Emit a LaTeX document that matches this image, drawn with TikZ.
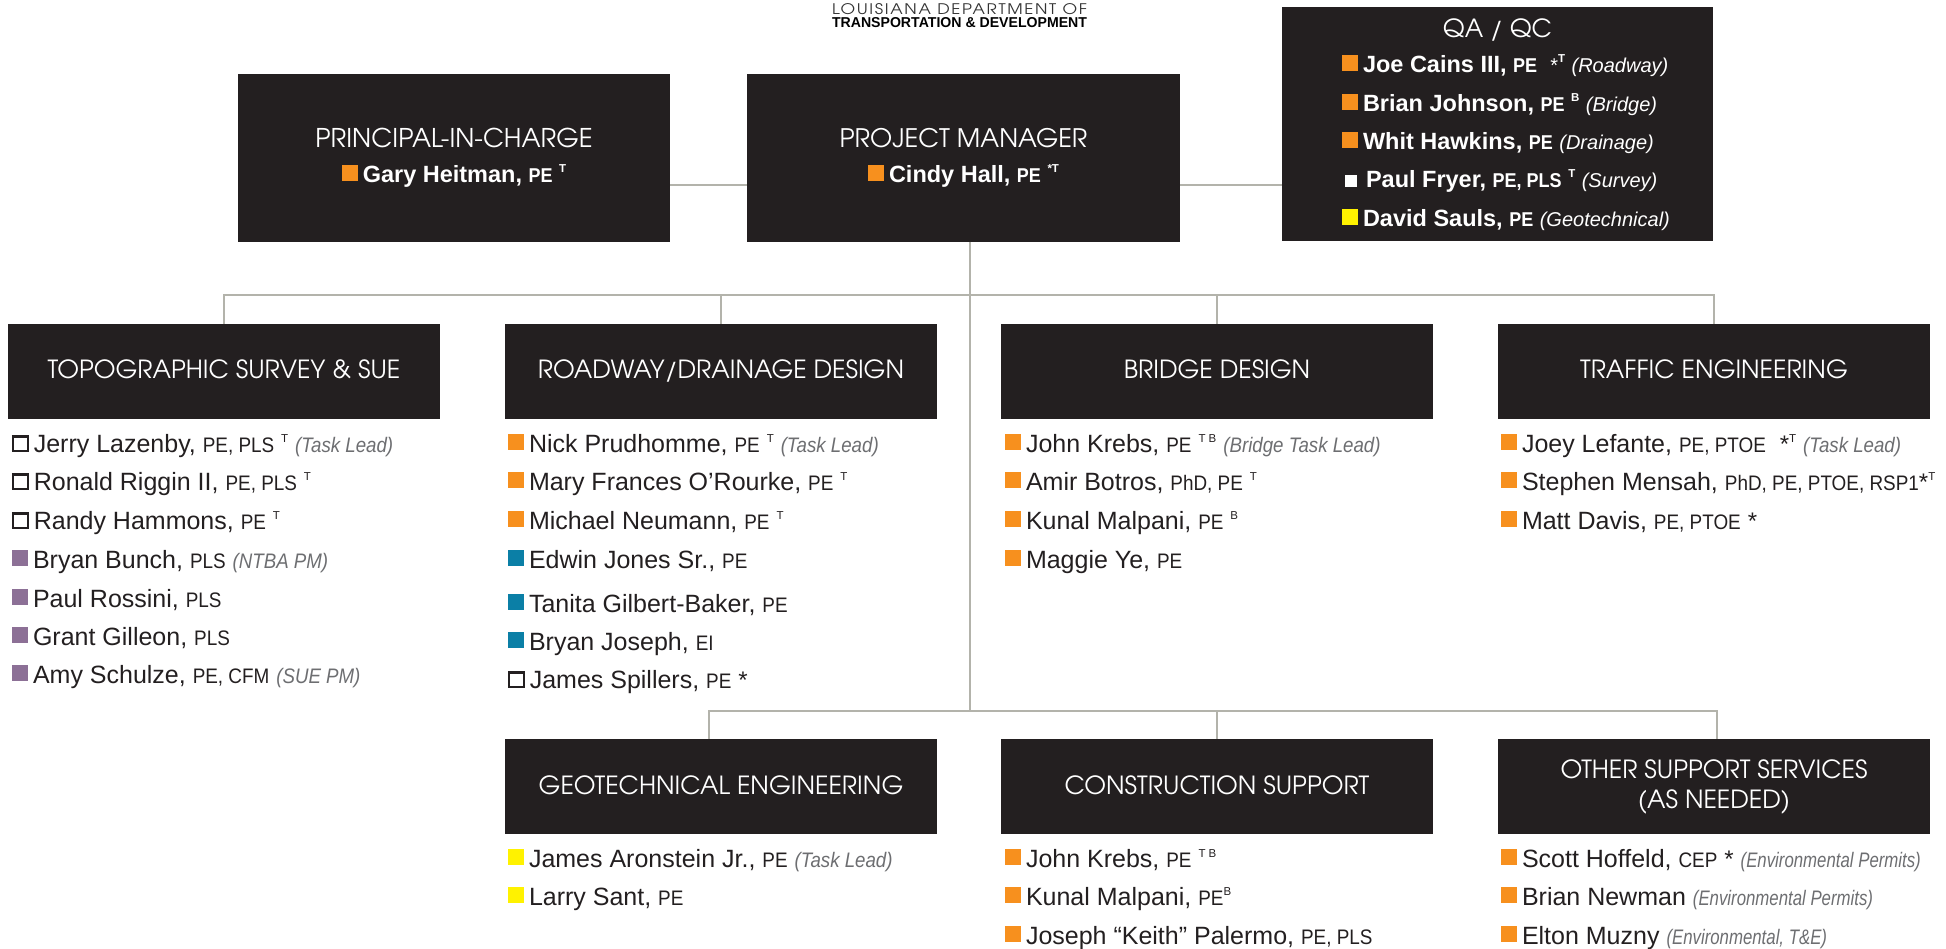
\documentclass[tikz,border=0pt]{standalone}
\usepackage{fontspec}
\usepackage{graphicx}
\setmainfont{Liberation Sans}
\newfontfamily\advf{TeX Gyre Adventor}
\newfontfamily\advL{TeX Gyre Adventor}[LetterSpace=10]
\newfontfamily\crf{Liberation Sans}[FakeStretch=0.9]
\newfontfamily\nfA{Liberation Sans}[FakeStretch=0.89]
\newfontfamily\nfB{Liberation Sans}[FakeStretch=0.8]
\definecolor{boxc}{HTML}{231F20}
\definecolor{txtc}{HTML}{231F20}
\definecolor{notec}{HTML}{6D6E71}
\definecolor{orng}{HTML}{F7901E}
\definecolor{purp}{HTML}{8C7096}
\definecolor{teal}{HTML}{0B7FA6}
\definecolor{yell}{HTML}{FFF200}
\definecolor{linec}{HTML}{B3B3AB}
\newcommand\hdrf{\advf\fontsize{25}{30}\selectfont}
\newcommand\sqf[1]{\textcolor{#1}{\rule[2pt]{16pt}{16pt}}\hspace{5pt}}
\newcommand\sqo{\raisebox{2pt}{\setlength\fboxrule{2.2pt}\setlength\fboxsep{0pt}\fbox{\rule{0pt}{12.4pt}\hspace{12.4pt}}}\hspace{5pt}}
\newcommand\crd[1]{{\crf\fontsize{21}{23}\selectfont #1}}
\newcommand\ask{{\fontsize{24}{24}\selectfont *}}
\newcommand\sps[1]{\raisebox{10pt}{\fontsize{11.5}{12}\selectfont #1}}
\newcommand\nte[1]{{\color{notec}\nfA\itshape\fontsize{21}{24}\selectfont #1}}
\newcommand\ntc[1]{{\color{notec}\nfB\itshape\fontsize{21}{24}\selectfont #1}}
\newcommand\qcrd[1]{{\crf\fontsize{20}{22}\selectfont #1}}
\newcommand\qnte[1]{{\mdseries\itshape\fontsize{20}{24}\selectfont #1}}
\tikzset{
  hbox/.style={fill=boxc, draw=none, inner sep=0pt, outer sep=0pt},
  hdr/.style={anchor=base, inner sep=0pt, text=white, font=\hdrf},
  row/.style={anchor=base west, inner sep=0pt, outer sep=0pt, text=txtc, font=\fontsize{25}{30}\selectfont},
  qrow/.style={anchor=base west, inner sep=0pt, outer sep=0pt, text=white, font=\bfseries\fontsize{23.5}{28}\selectfont},
  crow/.style={anchor=base, inner sep=0pt, outer sep=0pt, text=white, font=\bfseries\fontsize{23.5}{28}\selectfont},
  conn/.style={draw=linec, line width=2.3pt},
  logo/.style={anchor=base west, inner sep=0pt, outer sep=0pt}
}
\begin{document}
\begin{tikzpicture}[x=1pt,y=-1pt]
\useasboundingbox (0,0) rectangle (1946,949);
% logo
\node[logo, text=black!80] (logo1) at (832,15) {\resizebox{255pt}{11pt}{\advL LOUISIANA DEPARTMENT OF}};
\node[logo, text=black] (logo2) at (832,28) {\resizebox{255pt}{10pt}{\bfseries TRANSPORTATION \& DEVELOPMENT}};
% boxes
\node[hbox, minimum width=432pt, minimum height=168pt] (pic) at (454,158) {};
\node[hbox, minimum width=433pt, minimum height=168pt] (pm) at (963.5,158) {};
\node[hbox, minimum width=431pt, minimum height=234pt] (qa) at (1497.5,124) {};
\node[hbox, minimum width=432pt, minimum height=95pt] (topo) at (224,371.5) {};
\node[hbox, minimum width=432pt, minimum height=95pt] (road) at (721,371.5) {};
\node[hbox, minimum width=432pt, minimum height=95pt] (bridge) at (1217,371.5) {};
\node[hbox, minimum width=432pt, minimum height=95pt] (traffic) at (1714,371.5) {};
\node[hbox, minimum width=432pt, minimum height=95pt] (geo) at (721,786.5) {};
\node[hbox, minimum width=432pt, minimum height=95pt] (cons) at (1217,786.5) {};
\node[hbox, minimum width=432pt, minimum height=95pt] (other) at (1714,786.5) {};
% connectors
\coordinate (b1) at (970,295);
\coordinate (b2) at (970,711);
\draw[conn] ([yshift=-27pt]pic.east) -- ([yshift=-27pt]pm.west);
\draw[conn] ([yshift=-27pt]pm.east) -- ([yshift=-27pt]pm.east -| qa.west);
\draw[conn] ([xshift=6.5pt]pm.south) -- (b2);
\draw[conn] (topo.north) -- (topo.north |- b1) -- (traffic.north |- b1) -- (traffic.north);
\draw[conn] (road.north) -- (road.north |- b1);
\draw[conn] (bridge.north) -- (bridge.north |- b1);
\draw[conn] ([xshift=-12pt]geo.north) -- ([xshift=-12pt]geo.north |- b2) -- ([xshift=3pt]other.north |- b2) -- ([xshift=3pt]other.north);
\draw[conn] (cons.north) -- (cons.north |- b2);
% top headers
\node[hdr, font=\advf\fontsize{25.8}{30}\selectfont] (pich) at (454,148) {PRINCIPAL-IN-CHARGE};
\node[crow] (picn) at (454,183) {\sqf{orng}Gary Heitman, \qcrd{PE} \sps{T}};
\node[hdr, font=\advf\fontsize{25.5}{30}\selectfont] (pmh) at (963.5,148) {PROJECT MANAGER};
\node[crow] (pmn) at (963.5,183) {\sqf{orng}Cindy Hall, \qcrd{PE} \sps{*T}};
\node[hdr] (qah) at (1497.5,38) {QA / QC};
\node[qrow] (q1) at (1342,73) {\sqf{orng}Joe Cains III, \qcrd{PE} \ {\mdseries\fontsize{20}{20}\selectfont *}\sps{T} \qnte{(Roadway)}};
\node[qrow] (q2) at (1342,112) {\sqf{orng}Brian Johnson, \qcrd{PE} \sps{B} \qnte{(Bridge)}};
\node[qrow] (q3) at (1342,150) {\sqf{orng}Whit Hawkins, \qcrd{PE} \qnte{(Drainage)}};
\node[qrow] (q4) at (1345,188) {\textcolor{white}{\rule[1pt]{12pt}{12pt}}\hspace{9pt}Paul Fryer, \qcrd{PE, PLS} \sps{T} \qnte{(Survey)}};
\node[qrow] (q5) at (1342,227) {\sqf{yell}David Sauls, \qcrd{PE} \qnte{(Geotechnical)}};
% mid headers
\node[hdr] (topoh) at (224,379) {TOPOGRAPHIC SURVEY \& SUE};
\node[hdr] (roadh) at (721,379) {ROADWAY/DRAINAGE DESIGN};
\node[hdr] (bridgeh) at (1217,379) {BRIDGE DESIGN};
\node[hdr] (traffich) at (1714,379) {TRAFFIC ENGINEERING};
\node[hdr] (geoh) at (721,794) {GEOTECHNICAL ENGINEERING};
\node[hdr] (consh) at (1217,794) {CONSTRUCTION SUPPORT};
\node[hdr] (otherh1) at (1714,778) {OTHER SUPPORT SERVICES};
\node[hdr] (otherh2) at (1714,808) {(AS NEEDED)};
% topo list
\node[row] (t1) at (12,452) {\sqo Jerry Lazenby, \crd{PE, PLS} \sps{T} \nte{(Task Lead)}};
\node[row] (t2) at (12,490) {\sqo Ronald Riggin II, \crd{PE, PLS} \sps{T}};
\node[row] (t3) at (12,529) {\sqo Randy Hammons, \crd{PE} \sps{T}};
\node[row] (t4) at (12,568) {\sqf{purp}Bryan Bunch, \crd{PLS} \nte{(NTBA PM)}};
\node[row] (t5) at (12,607) {\sqf{purp}Paul Rossini, \crd{PLS}};
\node[row] (t6) at (12,645) {\sqf{purp}Grant Gilleon, \crd{PLS}};
\node[row] (t7) at (12,683) {\sqf{purp}Amy Schulze, \crd{PE, CFM} \nte{(SUE PM)}};
% road list
\node[row] (r1) at (508,452) {\sqf{orng}Nick Prudhomme, \crd{PE} \sps{T} \nte{(Task Lead)}};
\node[row] (r2) at (508,490) {\sqf{orng}Mary Frances O’Rourke, \crd{PE} \sps{T}};
\node[row] (r3) at (508,529) {\sqf{orng}Michael Neumann, \crd{PE} \sps{T}};
\node[row] (r4) at (508,568) {\sqf{teal}Edwin Jones Sr., \crd{PE}};
\node[row] (r5) at (508,612) {\sqf{teal}Tanita Gilbert-Baker, \crd{PE}};
\node[row] (r6) at (508,650) {\sqf{teal}Bryan Joseph, \crd{EI}};
\node[row] (r7) at (508,688) {\sqo James Spillers, \crd{PE} \ask};
% bridge list
\node[row] (g1) at (1005,452) {\sqf{orng}John Krebs, \crd{PE} \sps{T B} \nte{(Bridge Task Lead)}};
\node[row] (g2) at (1005,490) {\sqf{orng}Amir Botros, \crd{PhD, PE} \sps{T}};
\node[row] (g3) at (1005,529) {\sqf{orng}Kunal Malpani, \crd{PE} \sps{B}};
\node[row] (g4) at (1005,568) {\sqf{orng}Maggie Ye, \crd{PE}};
% traffic list
\node[row] (f1) at (1501,452) {\sqf{orng}Joey Lefante, \crd{PE, PTOE} \ \ask\sps{T} \nte{(Task Lead)}};
\node[row] (f2) at (1501,490) {\sqf{orng}Stephen Mensah, \crd{PhD, PE, PTOE, RSP1}\ask\sps{T}};
\node[row] (f3) at (1501,529) {\sqf{orng}Matt Davis, \crd{PE, PTOE} \ask};
% geo list
\node[row] (e1) at (508,867) {\sqf{yell}James Aronstein Jr., \crd{PE} \nte{(Task Lead)}};
\node[row] (e2) at (508,905) {\sqf{yell}Larry Sant, \crd{PE}};
% construction list
\node[row] (c1) at (1005,867) {\sqf{orng}John Krebs, \crd{PE} \sps{T B}};
\node[row] (c2) at (1005,905) {\sqf{orng}Kunal Malpani, \crd{PE}\sps{B}};
\node[row] (c3) at (1005,944) {\sqf{orng}Joseph “Keith” Palermo, \crd{PE, PLS}};
% other list
\node[row] (o1) at (1501,867) {\sqf{orng}Scott Hoffeld, \crd{CEP} \ask\ \ntc{(Environmental Permits)}};
\node[row] (o2) at (1501,905) {\sqf{orng}Brian Newman \ntc{(Environmental Permits)}};
\node[row] (o3) at (1501,944) {\sqf{orng}Elton Muzny \ntc{(Environmental, T\&E)}};
\end{tikzpicture}
\end{document}
